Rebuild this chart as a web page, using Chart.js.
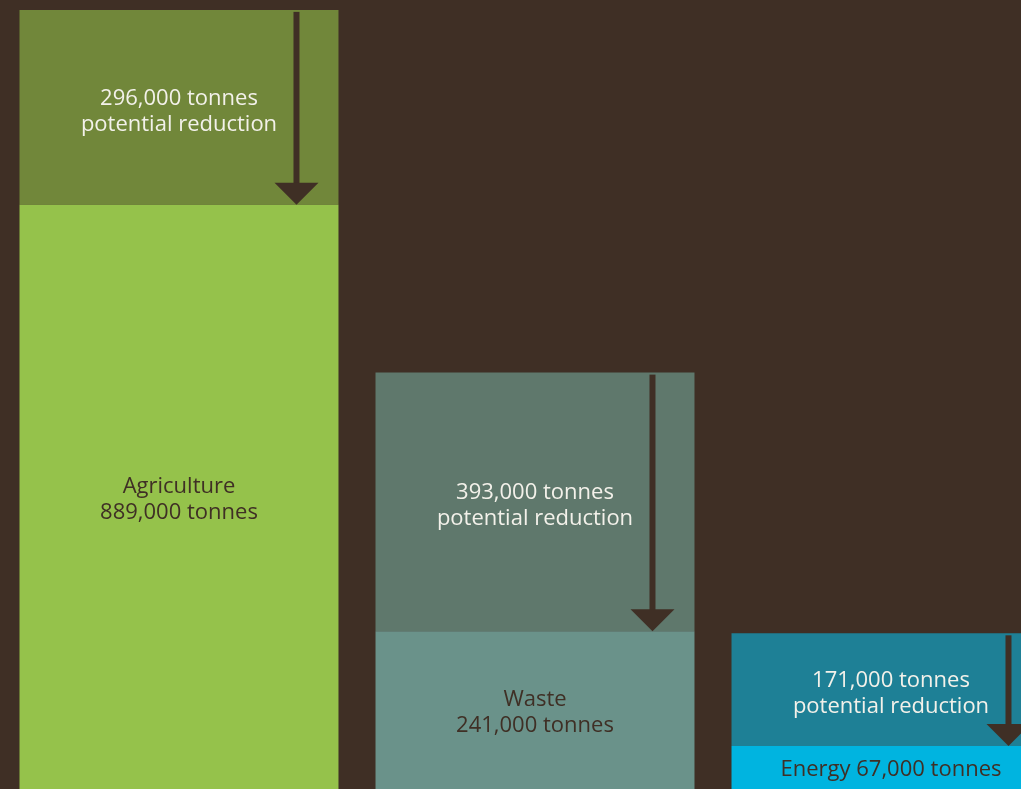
<!DOCTYPE html>
<html>
<head>
<meta charset="utf-8">
<script src="https://cdn.jsdelivr.net/npm/chart.js@4"></script>
<style>
  html, body {
    margin: 0;
    padding: 0;
    background: #3f2f25;
    overflow: hidden;
    width: 1021px;
    height: 789px;
  }
  #chartBox {
    position: absolute;
    left: 1px;
    top: 0;
  }
</style>
</head>
<body>
<canvas id="chartBox" width="1068" height="790"></canvas>
<script>
// emissions in thousand tonnes
const sectors = ["Agriculture", "Waste", "Energy"];
const current = [889, 241, 67];
const reduction = [296, 393, 171];

const currentColors = ["#95c24b", "#6a928a", "#00b4e0"];
const reductionColors = ["#71873a", "#5f786c", "#1e8096"];
const bgColor = "#3f2f25";

const fmt = v => (v * 1000).toLocaleString("en-US") + " tonnes";

// text inside each segment, plus the arrow over the reduction part
const segmentLabels = {
  id: "segmentLabels",
  afterDatasetsDraw(chart) {
    const ctx = chart.ctx;
    const lineH = 26;
    ctx.save();
    ctx.font = '22px "Open Sans"';
    ctx.textAlign = "center";
    ctx.textBaseline = "middle";

    const drawLines = (lines, x, cy, color) => {
      ctx.fillStyle = color;
      const y0 = cy - (lines.length - 1) * lineH / 2;
      lines.forEach((l, i) => ctx.fillText(l, x, y0 + i * lineH));
    };

    const low = chart.getDatasetMeta(0).data;
    const high = chart.getDatasetMeta(1).data;

    sectors.forEach((name, i) => {
      const b = low[i];
      const t = high[i];
      const right = b.x + b.width / 2;

      // arrow from the top of the bar down to the current level
      const ax = right - 42;
      ctx.fillStyle = bgColor;
      ctx.fillRect(ax - 3, t.y + 2, 6, b.y - t.y - 22);
      ctx.beginPath();
      ctx.moveTo(ax - 22, b.y - 22);
      ctx.lineTo(ax + 22, b.y - 22);
      ctx.lineTo(ax, b.y);
      ctx.closePath();
      ctx.fill();

      drawLines([fmt(reduction[i]), "potential reduction"], b.x, (t.y + b.y) / 2 + 4, "#f3f1ea");

      const h = b.base - b.y;
      const lines = h > 2 * lineH + 20 ? [name, fmt(current[i])] : [name + " " + fmt(current[i])];
      drawLines(lines, b.x, (b.y + b.base) / 2 + 2, bgColor);
    });
    ctx.restore();
  }
};

new Chart(document.getElementById("chartBox").getContext("2d"), {
  type: "bar",
  data: {
    labels: sectors,
    datasets: [
      { label: "Current", data: current, backgroundColor: currentColors },
      { label: "Potential reduction", data: reduction, backgroundColor: reductionColors }
    ]
  },
  options: {
    responsive: false,
    animation: false,
    layout: { padding: 0 },
    datasets: {
      bar: { categoryPercentage: 1, barPercentage: 0.896, borderWidth: 0 }
    },
    plugins: {
      legend: { display: false },
      tooltip: { enabled: false }
    },
    scales: {
      x: { stacked: true, display: false },
      y: { stacked: true, display: false, min: 0, max: 1200 }
    }
  },
  plugins: [segmentLabels]
});
</script>
</body>
</html>
